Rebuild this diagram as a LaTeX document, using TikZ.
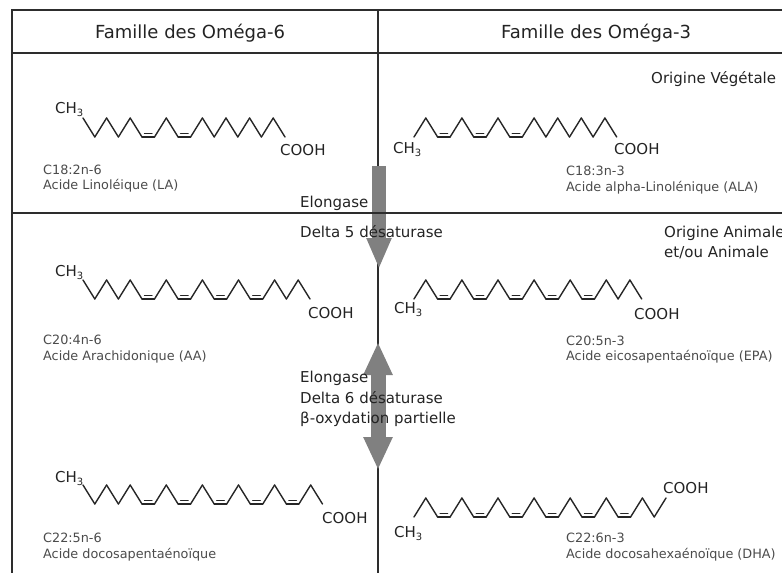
\documentclass[tikz,border=0pt]{standalone}
\usepackage{fontspec}
\setmainfont{DejaVu Sans}
\usetikzlibrary{arrows.meta}
\definecolor{framegray}{RGB}{45,45,45}
\definecolor{arrowgray}{RGB}{128,128,128}
\definecolor{labelgray}{RGB}{75,75,75}
\definecolor{textdark}{RGB}{35,35,35}

\newcommand{\methyl}{CH\raisebox{-3.5pt}{\fontsize{10}{10}\selectfont 3}}
% chain drawn from #1, first level #2 (0 high, 1 low), bonds #3 (d single, h cis double)
\newcommand{\acidchain}[3]{%
\begin{scope}[shift={#1}]
\xdef\cx{0}\xdef\cl{#2}
\foreach \s in {#3}{
  \if\s d
    \pgfmathsetmacro\nx{\cx+11.8}
    \pgfmathsetmacro\nl{1-\cl}
    \draw[bond] (\cx,{19*\cl}) -- (\nx,{19*\nl});
    \xdef\cl{\nl}
  \else
    \pgfmathsetmacro\nx{\cx+12.5}
    \draw[bond] (\cx,{19*\cl}) -- (\nx,{19*\cl});
    \draw[bond] (\cx+2.5,{19*\cl-3.5}) -- (\nx-2.5,{19*\cl-3.5});
  \fi
  \xdef\cx{\nx}
}
\end{scope}}

\begin{document}
\begin{tikzpicture}[x=1pt,y=-1pt,
  bond/.style={line width=1.4pt,black!85,line cap=round,line join=round},
  frame/.style={line width=1.2pt,framegray},
  headtxt/.style={font=\fontsize{18}{20}\selectfont,textdark,inner sep=0pt,anchor=base west},
  midtxt/.style={font=\fontsize{15}{17}\selectfont,textdark,inner sep=0pt,anchor=base west},
  smalltxt/.style={font=\fontsize{12.8}{15}\selectfont,labelgray,inner sep=0pt,anchor=base west},
  blockarrow/.style={arrowgray,line width=14pt}]
\useasboundingbox (0,0) rectangle (782,573);
\clip (0,0) rectangle (782,573);

% table
\draw[frame](378,10)--(378,573);
\coordinate (d5top) at (379,166);
\coordinate (d5tip) at (379,269);
\draw[blockarrow,-{Triangle[width=23pt,length=31pt]}](d5top)--(d5tip);
\coordinate (d6up) at (378,342);
\coordinate (d6down) at (378,470);
\draw[blockarrow,line width=15pt,{Triangle[width=27pt,length=33pt]}-{Triangle[width=27pt,length=33pt]}](d6up)--(d6down);
\draw[frame](782,10)--(12,10)--(12,573);
\draw[frame](12,53)--(782,53);
\draw[frame](12,213)--(782,213);

\node[headtxt] (om6) at (95,38){Famille des Oméga-6};
\node[headtxt] (om3) at (501,38){Famille des Oméga-3};
\node[midtxt] (veg) at (651,83){Origine Végétale};
\node[midtxt] (ani) at (664,237){Origine Animale};
\node[midtxt] (ani2) at (664,257){et/ou Animale};

% omega-6
\acidchain{(83,118)}{0}{d,d,d,d,d,h,d,d,h,d,d,d,d,d,d,d,d}
\node[midtxt] (la-ch) at (55,113){\methyl};
\node[midtxt] (la-co) at (280,155){COOH};
\node[smalltxt] (la-f) at (43,174){C18:2n-6};
\node[smalltxt] (la-n) at (43,189){Acide Linoléique (LA)};

\acidchain{(83,280)}{0}{d,d,d,d,d,h,d,d,h,d,d,h,d,d,h,d,d,d,d}
\node[midtxt] (aa-ch) at (55,276){\methyl};
\node[midtxt] (aa-co) at (308,318){COOH};
\node[smalltxt] (aa-f) at (43,344){C20:4n-6};
\node[smalltxt] (aa-n) at (43,360){Acide Arachidonique (AA)};

\acidchain{(83,485)}{0}{d,d,d,d,d,h,d,d,h,d,d,h,d,d,h,d,d,h,d,d}
\node[midtxt] (dpa-ch) at (55,482){\methyl};
\node[midtxt] (dpa-co) at (322,523){COOH};
\node[smalltxt] (dpa-f) at (43,542){C22:5n-6};
\node[smalltxt] (dpa-n) at (43,558){Acide docosapentaénoïque};

% omega-3
\acidchain{(414,118)}{1}{d,d,h,d,d,h,d,d,h,d,d,d,d,d,d,d,d}
\node[midtxt] (ala-ch) at (393,153){\methyl};
\node[midtxt] (ala-co) at (614,154){COOH};
\node[smalltxt] (ala-f) at (566,175){C18:3n-3};
\node[smalltxt] (ala-n) at (566,191){Acide alpha-Linolénique (ALA)};

\acidchain{(414,280)}{1}{d,d,h,d,d,h,d,d,h,d,d,h,d,d,h,d,d,d,d}
\node[midtxt] (epa-ch) at (394,313){\methyl};
\node[midtxt] (epa-co) at (634,319){COOH};
\node[smalltxt] (epa-f) at (566,345){C20:5n-3};
\node[smalltxt] (epa-n) at (566,360){Acide eicosapentaénoïque (EPA)};

\acidchain{(414,498)}{1}{d,d,h,d,d,h,d,d,h,d,d,h,d,d,h,d,d,h,d,d,d}
\node[midtxt] (dha-ch) at (394,537){\methyl};
\node[midtxt] (dha-co) at (663,493){COOH};
\node[smalltxt] (dha-f) at (566,542){C22:6n-3};
\node[smalltxt] (dha-n) at (566,558){Acide docosahexaénoïque (DHA)};

% enzymes
\node[midtxt] (elo1) at (300,207){Elongase};
\node[midtxt] (des5) at (300,237){Delta 5 désaturase};
\node[midtxt] (elo2) at (300,382){Elongase};
\node[midtxt] (des6) at (300,403){Delta 6 désaturase};
\node[midtxt] (beta) at (300,423){β-oxydation partielle};
\end{tikzpicture}
\end{document}
